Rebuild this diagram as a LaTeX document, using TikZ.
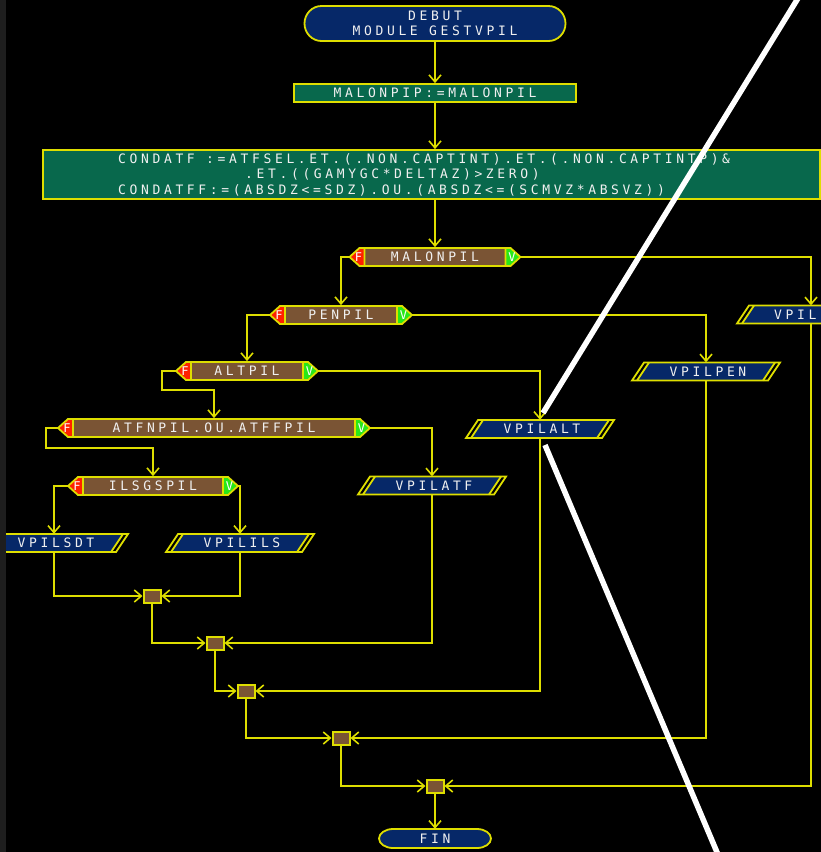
\documentclass[tikz,border=0pt]{standalone}
\usepackage{fontspec}
\usetikzlibrary{arrows.meta,calc}
\newfontfamily\pixfam[LetterSpace=28]{DejaVu Sans Mono}
\newfontfamily\tabfam{DejaVu Sans Mono}
\definecolor{ylw}{RGB}{222,222,0}
\definecolor{navyc}{RGB}{6,40,104}
\definecolor{tealc}{RGB}{8,104,76}
\definecolor{brnc}{RGB}{122,84,52}
\definecolor{redt}{RGB}{255,32,0}
\definecolor{grnt}{RGB}{40,232,24}
\definecolor{txtc}{RGB}{240,240,240}
\definecolor{edgec}{RGB}{30,30,30}
\newcommand\pixtxt{\pixfam\fontsize{13}{15.4}\selectfont}
\newcommand\tabtxt{\tabfam\fontsize{12}{13}\selectfont}
\tikzset{
  ln/.style={draw=ylw, line width=1.8pt},
  conn/.style={ln, -{Straight Barb[length=7pt,width=12pt,line width=1.6pt]}},
  txt/.style={text=txtc, font=\pixtxt, inner sep=0pt},
  tabt/.style={text=white, font=\tabtxt, inner sep=0pt},
  procbox/.style={ln, fill=tealc, inner sep=0pt, text=txtc, font=\pixtxt},
  decbody/.style={ln, fill=brnc, inner sep=0pt, minimum height=18pt, text=txtc, font=\pixtxt},
  iob/.style={draw=none, inner sep=0pt, minimum width=124pt, minimum height=18pt},
  junc/.style={ln, line width=2pt, fill=brnc, minimum width=17pt, minimum height=13pt, inner sep=0pt},
  overlay line/.style={draw=white, line width=5.5pt}
}
% decision: name, cx, cy, half width, label
\newcommand\decis[5]{%
  \node[decbody, minimum width={2*#4}] (#1) at (#2,#3) {#5};
  \filldraw[ln, fill=redt] ({#2-#4},{#3-9}) -- ({#2-#4-5},{#3-9}) -- ({#2-#4-15},#3) -- ({#2-#4-5},{#3+9}) -- ({#2-#4},{#3+9}) -- cycle;
  \filldraw[ln, fill=grnt] ({#2+#4},{#3-9}) -- ({#2+#4+5},{#3-9}) -- ({#2+#4+15},#3) -- ({#2+#4+5},{#3+9}) -- ({#2+#4},{#3+9}) -- cycle;
  \node[tabt] at ({#2-#4-6},#3) {F};
  \node[tabt] at ({#2+#4+6.5},#3) {V};
  \coordinate (#1-F) at ({#2-#4-15},#3);
  \coordinate (#1-V) at ({#2+#4+15},#3);
}
% input/output box: name, cx, cy, label
\newcommand\iobox[4]{%
  \fill[navyc] ({#2-57},{#3-9}) -- ({#2+69},{#3-9}) -- ({#2+57},{#3+9}) -- ({#2-69},{#3+9}) -- cycle;
  \draw[ln] ({#2-62},{#3-9}) -- ({#2+74},{#3-9}) -- ({#2+62},{#3+9}) -- ({#2-74},{#3+9}) -- cycle;
  \draw[ln] ({#2-57},{#3-9}) -- ({#2-69},{#3+9});
  \draw[ln] ({#2+69},{#3-9}) -- ({#2+57},{#3+9});
  \node[iob] (#1) at (#2,#3) {};
  \node[txt] (#1-t) at ({#2+2},#3) {#4};
}
% terminal: name, cx, cy, hw, hh, bulge, text
\newcommand\term[7]{%
  \filldraw[ln, fill=navyc] ({#2-#4+#6},{#3-#5}) -- ({#2+#4-#6},{#3-#5})
    .. controls ({#2+#4-0.448*#6},{#3-#5}) and ({#2+#4},{#3-0.552*#5}) .. ({#2+#4},#3)
    .. controls ({#2+#4},{#3+0.552*#5}) and ({#2+#4-0.448*#6},{#3+#5}) .. ({#2+#4-#6},{#3+#5})
    -- ({#2-#4+#6},{#3+#5})
    .. controls ({#2-#4+0.448*#6},{#3+#5}) and ({#2-#4},{#3+0.552*#5}) .. ({#2-#4},#3)
    .. controls ({#2-#4},{#3-0.552*#5}) and ({#2-#4+0.448*#6},{#3-#5}) .. cycle;
  \node[txt, align=center, minimum width={2*#4}, minimum height={2*#5}] (#1) at (#2,#3) {#7};
}
\begin{document}
\begin{tikzpicture}[x=1pt, y=-1pt]
\useasboundingbox (0,0) rectangle (821,852);
\clip (0,0) rectangle (821,852);
\fill[black] (0,0) rectangle (821,852);

% terminals and process boxes
\term{debut}{435}{23.5}{130.5}{17.5}{17}{DEBUT\\MODULE\hspace{11.43pt}GESTVPIL}
\node[procbox, minimum width=282pt, minimum height=18pt] (mp) at (435,93) {MALONPIP:=MALONPIL};
\node[procbox, minimum width=777pt, minimum height=49pt] (cond) at (431.5,174.5) {};
\node[txt, anchor=base west] (c1) at (118,163) {CONDATF\hspace{11.43pt}:=ATFSEL.ET.(.NON.CAPTINT).ET.(.NON.CAPTINTP)\&};
\node[txt, anchor=base west] (c2) at (245,178.8) {.ET.((GAMYGC*DELTAZ)>ZERO)};
\node[txt, anchor=base west] (c3) at (118,194.6) {CONDATFF:=(ABSDZ<=SDZ).OU.(ABSDZ<=(SCMVZ*ABSVZ))};

% decisions
\decis{mal}{435}{257}{70.5}{MALONPIL}
\decis{pen}{341}{315}{56}{PENPIL}
\decis{alt}{247}{371}{56}{ALTPIL}
\decis{atf}{214}{428}{141}{ATFNPIL.OU.ATFFPIL}
\decis{ilg}{153}{486}{70}{ILSGSPIL}

% input/output boxes
\iobox{vpil}{811}{314.5}{}
\node[txt, anchor=west] (vpil-t2) at (774,314.5) {VPIL};
\iobox{vpen}{706}{371.5}{VPILPEN}
\iobox{valt}{540}{429}{VPILALT}
\iobox{vatf}{432}{485.5}{VPILATF}
\iobox{vsdt}{54}{543}{VPILSDT}
\iobox{vils}{240}{543}{VPILILS}

% junctions
\node[junc] (j1) at (152,596) {};
\node[junc] (j2) at (215,643) {};
\node[junc] (j3) at (246,691) {};
\node[junc] (j4) at (341,738) {};
\node[junc] (j5) at (435,786) {};

\term{fin}{435}{838.5}{56}{9.5}{14}{FIN}

% connectors
\draw[conn] (debut.south) -- (mp.north);
\draw[conn] (mp.south) -- (mp.south |- cond.north);
\draw[conn] (mal.north |- cond.south) -- (mal.north);
\draw[conn] (mal-F) -| (pen.north);
\draw[conn] (mal-V) -| (vpil.north);
\draw[conn] (pen-F) -| (alt.north);
\draw[conn] (pen-V) -| (vpen.north);
\draw[conn] (alt-F) -| ++(-14,19) -| (atf.north);
\draw[conn] (alt-V) -| (valt.north);
\draw[conn] (atf-F) -| ++(-12,20) -| (ilg.north);
\draw[conn] (atf-V) -| (vatf.north);
\draw[conn] (ilg-F) -| (vsdt.north);
\draw[conn] (ilg-V) -| (vils.north);
\draw[conn] (vsdt.south) |- (j1.west);
\draw[conn] (vils.south) |- (j1.east);
\draw[conn] (j1.south) |- (j2.west);
\draw[conn] (vatf.south) |- (j2.east);
\draw[conn] (j2.south) |- (j3.west);
\draw[conn] (valt.south) |- (j3.east);
\draw[conn] (j3.south) |- (j4.west);
\draw[conn] (vpen.south) |- (j4.east);
\draw[conn] (j4.south) |- (j5.west);
\draw[conn] (vpil.south) |- (j5.east);
\draw[conn] (j5.south) -- (fin.north);

% left window edge
\fill[edgec] (0,0) rectangle (6,852);

% white overlay strokes
\draw[overlay line] (800,-5) -- (543,413);
\draw[overlay line] (545,445) -- (719,857);
\end{tikzpicture}
\end{document}
